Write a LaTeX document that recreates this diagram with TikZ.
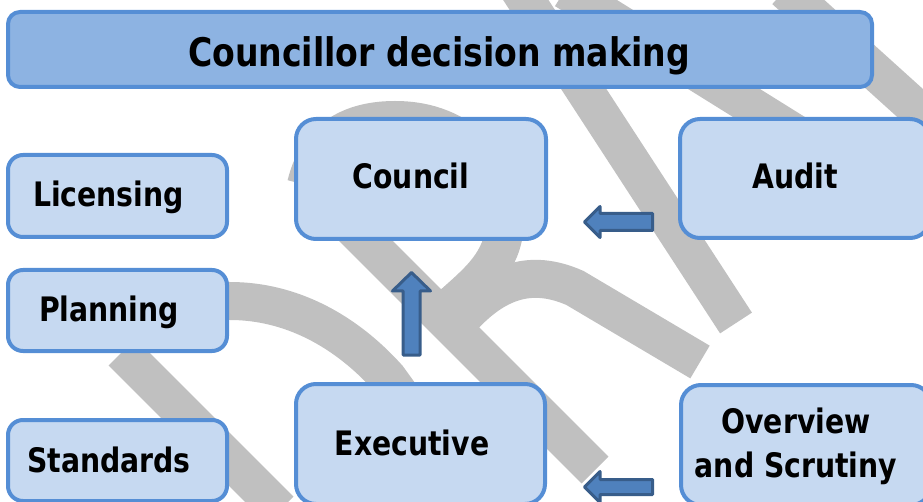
\documentclass[tikz,border=0pt]{standalone}
\usepackage{fontspec}
\setmainfont{DejaVu Sans}[FakeStretch=0.84]
\definecolor{boxfill}{HTML}{C6D9F1}
\definecolor{titlefill}{HTML}{8DB3E2}
\definecolor{boxline}{HTML}{558ED5}
\definecolor{arrfill}{HTML}{4F81BD}
\definecolor{arrline}{HTML}{385D8A}
\definecolor{wm}{HTML}{C0C0C0}
\begin{document}
\begin{tikzpicture}[x=1pt,y=-1pt,
  box/.style={draw=boxline, line width=4pt, fill=boxfill, rounded corners=15pt, inner sep=0pt, outer sep=0pt},
  bigbox/.style={box, rounded corners=20pt},
  titlebox/.style={box, fill=titlefill, rounded corners=12pt},
  lbl/.style={anchor=base, font=\bfseries\fontsize{33.7}{40}\selectfont, inner sep=0pt},
  titlelbl/.style={anchor=base, font=\bfseries\fontsize{39.4}{46}\selectfont, inner sep=0pt},
  wmark/.style={draw=wm, line width=38pt, line cap=butt},
  blockarrow/.style={fill=arrfill, draw=arrline, line width=3pt, line join=round}]

\useasboundingbox (0,0) rectangle (923,502);
\clip (0,0) rectangle (923,502);

% watermark strokes
\path[wmark] (150,301) -- (230,301) .. controls (290,301) and (345,330) .. (388,378) -- (440,450);
\path[wmark] (122,352) -- (280,510);
\path[wmark] (320,195) -- (595,470);
\path[wmark] (306,185) .. controls (318,135) and (355,120) .. (395,120) .. controls (430,120) and (455,132) .. (475,150);
\path[wmark] (505,225) .. controls (502,262) and (480,280) .. (452,305);
\path[wmark] (462,318) .. controls (495,282) and (530,268) .. (575,288) -- (700,362);
\path[wmark] (518,-12) -- (736,323);
\path[wmark] (565,-10) -- (830,155);
\path[wmark] (785,-10) -- (940,130);

% boxes
\node[titlebox, minimum width=864pt, minimum height=75pt] (title) at (440,49.5) {};
\node[box, minimum width=219pt, minimum height=82pt] (lic) at (117.5,196) {};
\node[box, minimum width=219pt, minimum height=81pt] (plan) at (117.5,310.5) {};
\node[box, minimum width=219pt, minimum height=81pt] (std) at (117.5,460.5) {};
\node[bigbox, minimum width=250pt, minimum height=120pt] (council) at (421,179) {};
\node[bigbox, minimum width=250pt, minimum height=119pt] (audit) at (805,178.5) {};
\node[bigbox, minimum width=249pt, minimum height=120pt] (exec) at (420.5,444) {};
\node[bigbox, minimum width=250pt, minimum height=120pt] (over) at (806,445) {};

% labels
\node[titlelbl] (titletext) at (439,67) {Councillor decision making};
\node[lbl] (lictext) at (108.5,207) {Licensing};
\node[lbl] (plantext) at (109,322) {Planning};
\node[lbl] (stdtext) at (109,472) {Standards};
\node[lbl] (counciltext) at (411,189) {Council};
\node[lbl] (audittext) at (795,189) {Audit};
\node[lbl] (exectext) at (412,455) {Executive};
\node[lbl] (overtext1) at (796,433) {Overview};
\node[lbl] (overtext2) at (796,477) {and Scrutiny};

% block arrows
\path[blockarrow] (403,355) -- (403,291) -- (392.5,291) -- (411.5,272.5) -- (430.5,291) -- (420,291) -- (420,355) -- cycle;
\path[blockarrow] (652.5,213.5) -- (600,213.5) -- (600,206.5) -- (584.5,222) -- (600,237.5) -- (600,230.5) -- (652.5,230.5) -- cycle;
\path[blockarrow] (652.5,479.5) -- (600,479.5) -- (600,471.5) -- (584.5,487) -- (600,502.5) -- (600,494.5) -- (652.5,494.5) -- cycle;
\end{tikzpicture}
\end{document}
